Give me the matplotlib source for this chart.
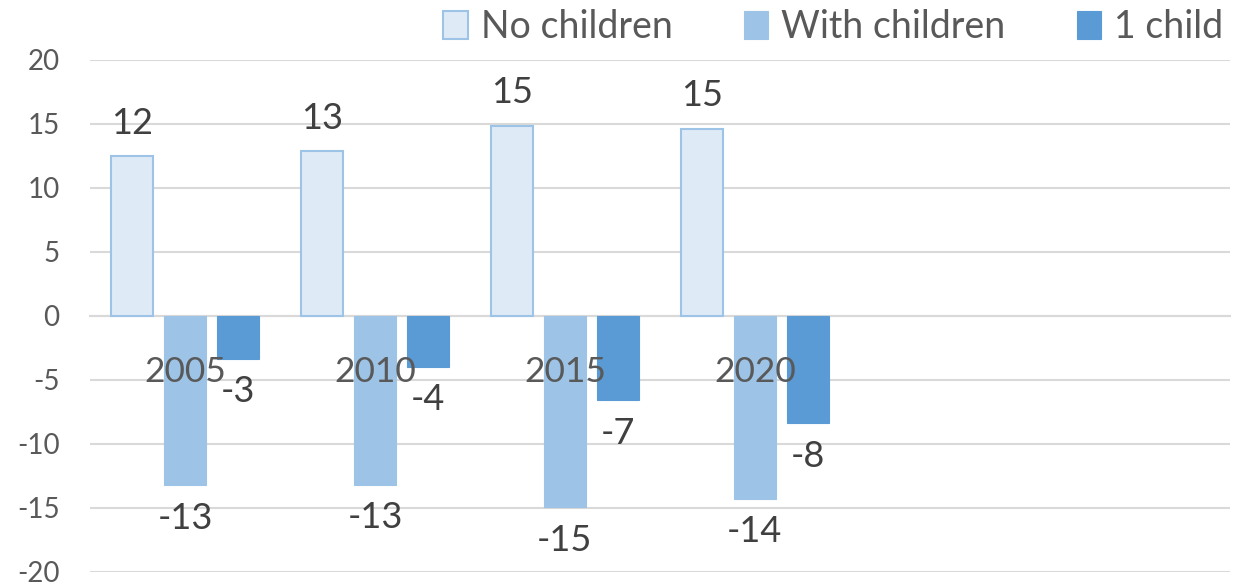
import matplotlib
matplotlib.use("Agg")
import matplotlib.pyplot as plt
import numpy as np

# Chart data
years = ["2005", "2010", "2015", "2020", "", ""]
no_children = [12.45, 12.84, 14.86, 14.63]
with_children = [-13.23, -13.2, -14.94, -14.3]
one_child = [-3.35, -3.97, -6.6, -8.4]
series_names = ["No children", "With children", "1 child"]
y_ticks = [-20, -15, -10, -5, 0, 5, 10, 15, 20]

plt.rcParams["font.family"] = ["Lato", "DejaVu Sans"]
plt.rcParams["axes.unicode_minus"] = False

fig = plt.figure(figsize=(12.51, 5.87), dpi=100)
ax = fig.add_axes([0.072, 0.026, 0.911, 0.872])

n = len(no_children)
x = np.arange(n)
width = 0.22
offset = 0.28

b1 = ax.bar(x - offset, no_children, width, color="#DEEBF7", edgecolor="#9DC3E6",
            linewidth=1.5, label=series_names[0], zorder=2)
b2 = ax.bar(x, with_children, width, color="#9DC3E6", edgecolor="#9DC3E6",
            linewidth=0.8, label=series_names[1], zorder=2)
b3 = ax.bar(x + offset, one_child, width, color="#5B9BD5", edgecolor="#5B9BD5",
            linewidth=0.8, label=series_names[2], zorder=2)

for bars in (b1, b2, b3):
    ax.bar_label(bars, fmt="%.0f", padding=12, fontsize=26, color="#404040")

ax.set_xlim(-0.5, len(years) - 0.5)
ax.set_ylim(-20, 20)
ax.set_yticks(y_ticks)
ax.set_xticks(np.arange(len(years)))
ax.set_xticklabels(years)

ax.grid(axis="y", color="#D9D9D9", linewidth=1.5, zorder=0)
ax.yaxis.set_zorder(0.5)
ax.xaxis.set_zorder(5)
for side in ("top", "right", "left"):
    ax.spines[side].set_visible(False)
ax.spines["bottom"].set_position(("data", 0))
ax.spines["bottom"].set_color("#D9D9D9")
ax.spines["bottom"].set_linewidth(1.5)
ax.spines["bottom"].set_zorder(1)

ax.tick_params(axis="y", length=0, labelsize=20, labelcolor="#595959", pad=22)
ax.tick_params(axis="x", length=0, labelsize=25.5, labelcolor="#595959", pad=29)

fig.legend(handles=[b1, b2, b3], loc="upper right", bbox_to_anchor=(1.005, 1.042),
           ncol=3, frameon=False, fontsize=27, labelcolor="#595959",
           handlelength=0.65, handleheight=0.75, handletextpad=0.35,
           columnspacing=1.9)

fig.savefig("out.png", dpi=100, facecolor="white")
